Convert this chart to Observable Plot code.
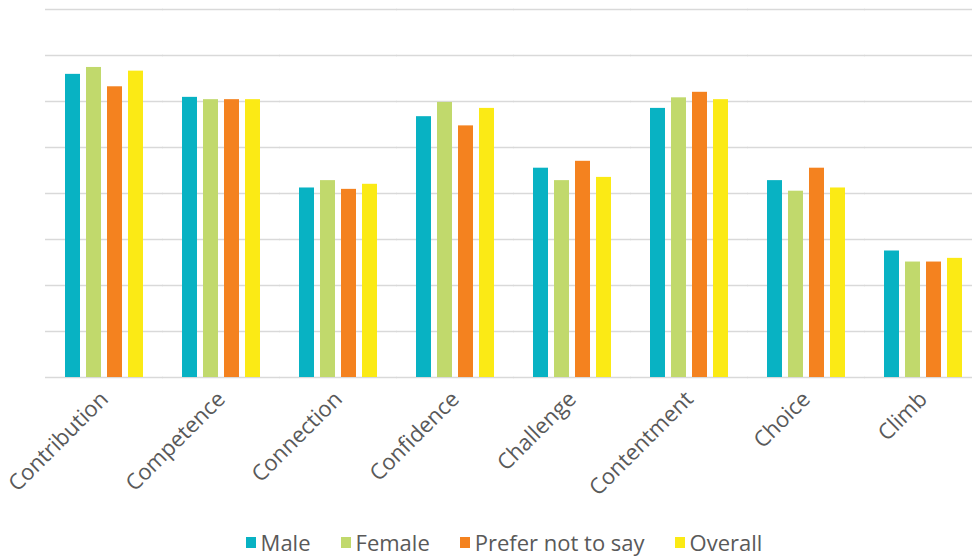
<!DOCTYPE html>
<html>
<head>
<meta charset="utf-8">
<script src="https://cdn.jsdelivr.net/npm/d3@7"></script>
<script src="https://cdn.jsdelivr.net/npm/@observablehq/plot@0.6"></script>
<style>
  html, body { margin: 0; padding: 0; background: #fff; overflow: hidden; }
  #chart { width: 982px; height: 528px; }
  #chart svg { display: block; }
  #legend { width: 956px; padding-left: 26px; height: 28px; display: flex; justify-content: center; align-items: center; }
  #legend > * { margin: 0 !important; min-height: 0 !important; line-height: 1; }
  .lg-swatch { margin-right: 30px !important; }
  .lg-swatch:last-child { margin-right: 0 !important; }
  .lg-swatch svg { margin-right: 5px !important; }
</style>
</head>
<body>
<div id="chart"></div>
<div id="legend"></div>
<script>
// Survey dimensions along the x axis
const categories = ["Contribution", "Competence", "Connection", "Confidence", "Challenge", "Contentment", "Choice", "Climb"];
// Respondent groups (one bar each per dimension)
const series = ["Male", "Female", "Prefer not to say", "Overall"];
const colors = ["#08b2c3", "#c1d96c", "#f4821f", "#fbea15"];

// Mean scores per group, in category order
const male      = [6.59, 6.09, 4.12, 5.67, 4.55, 5.85, 4.28, 2.75];
const female    = [6.74, 6.04, 4.28, 5.98, 4.28, 6.08, 4.05, 2.51];
const preferNot = [6.32, 6.04, 4.09, 5.47, 4.70, 6.20, 4.55, 2.51];
const overall   = [6.66, 6.04, 4.20, 5.85, 4.35, 6.04, 4.12, 2.59];

// Horizontal gridline values
const gridValues = [0, 1, 2, 3, 4, 5, 6, 7, 8];

const valuesBySeries = [male, female, preferNot, overall];
const data = categories.flatMap((category, i) =>
  series.map((s, j) => ({category, series: s, value: valuesBySeries[j][i]}))
);

const font = "'Open Sans', sans-serif";

const chart = Plot.plot({
  width: 982,
  height: 528,
  marginLeft: 45,
  marginRight: 0,
  marginTop: 9,
  marginBottom: 151,
  style: {fontFamily: font, fontSize: "22px", color: "#595959", background: "#fff", maxWidth: "none", overflow: "visible"},
  fx: {domain: categories, paddingInner: 0.32, paddingOuter: 0.16, label: null, tickRotate: -45, tickSize: 0, tickPadding: 18},
  x: {domain: series, axis: null, paddingInner: 0.27, paddingOuter: 0},
  y: {domain: [0, 8], axis: null},
  color: {domain: series, range: colors},
  marks: [
    // gridlines repeat in each facet and reach across the gaps between groups
    Plot.ruleY(gridValues, {stroke: "#d9d9d9", strokeWidth: 1.5, insetLeft: -19, insetRight: -19}),
    Plot.barY(data, {fx: "category", x: "series", y: "value", fill: "series"})
  ]
});
document.getElementById("chart").appendChild(chart);

const legend = Plot.legend({
  color: {domain: series, range: colors},
  legend: "swatches",
  className: "lg",
  swatchWidth: 10,
  swatchHeight: 11,
  style: {fontFamily: font, fontSize: "22px", color: "#595959"}
});
document.getElementById("legend").appendChild(legend);
</script>
</body>
</html>
